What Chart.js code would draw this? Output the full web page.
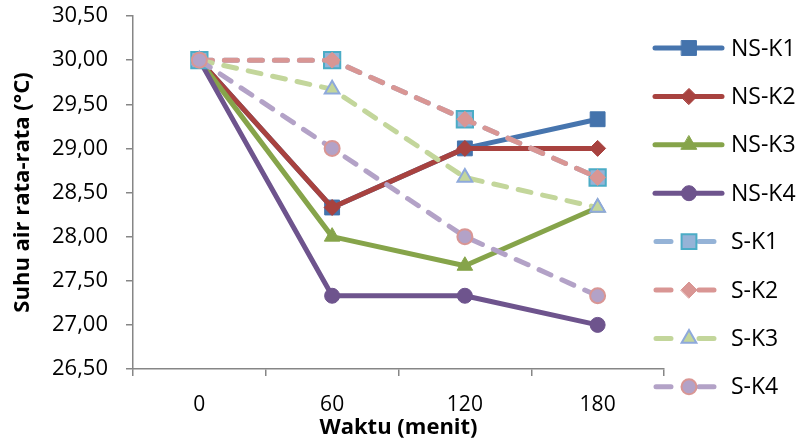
<!DOCTYPE html>
<html>
<head>
<meta charset="utf-8">
<script src="https://cdn.jsdelivr.net/npm/chart.js@4"></script>
<style>
  html, body { margin: 0; padding: 0; background: #fff; }
  #wrap { width: 796px; height: 441px; }
</style>
</head>
<body>
<div id="wrap"><canvas id="myChart" width="796" height="441"></canvas></div>
<script>
const labels = ['0', '60', '120', '180'];
const seriesNames = ['NS-K1', 'NS-K2', 'NS-K3', 'NS-K4', 'S-K1', 'S-K2', 'S-K3', 'S-K4'];
const nsK1 = [30.00, 28.33, 29.00, 29.33];
const nsK2 = [30.00, 28.33, 29.00, 29.00];
const nsK3 = [30.00, 28.00, 27.67, 28.33];
const nsK4 = [30.00, 27.33, 27.33, 27.00];
const sK1 = [30.00, 30.00, 29.33, 28.67];
const sK2 = [30.00, 30.00, 29.33, 28.67];
const sK3 = [30.00, 29.67, 28.67, 28.33];
const sK4 = [30.00, 29.00, 28.00, 27.33];
const yMin = 26.5, yMax = 30.5, yStep = 0.5;

const FONT = "'Open Sans', sans-serif";
const DASH = [13, 12];

function line(name, values, color, style, radius, fill, border, bw, dashed, order) {
  return {
    label: name,
    data: values,
    borderColor: color,
    backgroundColor: color,
    borderWidth: 5,
    borderDash: dashed ? DASH : [],
    borderCapStyle: 'round',
    borderJoinStyle: 'round',
    pointStyle: style,
    pointRadius: radius,
    pointHoverRadius: radius,
    pointBackgroundColor: fill,
    pointBorderColor: border,
    pointBorderWidth: bw,
    tension: 0,
    order: order
  };
}

const datasets = [
  line(seriesNames[0], nsK1, '#4775AE', 'rect', 10.5, '#4473AC', '#4473AC', 1, false, 8),
  line(seriesNames[1], nsK2, '#A8423F', 'rectRot', 8, '#A8423F', '#A8423F', 1, false, 7),
  line(seriesNames[2], nsK3, '#86A44A', 'triangle', 9, '#86A44A', '#86A44A', 1, false, 6),
  line(seriesNames[3], nsK4, '#6E548D', 'circle', 7.5, '#6E548D', '#6E548D', 1, false, 5),
  line(seriesNames[4], sK1, '#95B3D7', 'rect', 11.5, '#95B3D7', '#4BACC6', 2, true, 4),
  line(seriesNames[5], sK2, '#D99694', 'rectRot', 8, '#D99694', '#D99694', 1, true, 3),
  line(seriesNames[6], sK3, '#C3D69B', 'triangle', 8.5, '#C3D69B', '#8EA9DB', 2, true, 2),
  line(seriesNames[7], sK4, '#B3A2C7', 'circle', 7.5, '#B3A2C7', '#D99694', 2, true, 1)
];

// legend on the right: line + marker + name, like the spreadsheet one
const sideLegend = {
  id: 'sideLegend',
  afterDraw(chart) {
    const ctx = chart.ctx;
    const x0 = 653, x1 = 724, xm = 689, tx = 731;
    const top = 48, gap = 48.4;
    chart.data.datasets.forEach((ds, i) => {
      const y = top + i * gap;
      const dashed = ds.borderDash.length > 0;
      ctx.save();
      ctx.strokeStyle = ds.borderColor;
      ctx.lineWidth = ds.borderWidth;
      ctx.lineCap = 'round';
      ctx.beginPath();
      if (dashed) {
        ctx.moveTo(x0 + 3, y); ctx.lineTo(x0 + 18, y);
        ctx.moveTo(xm + 10, y); ctx.lineTo(x1 - 10, y);
      } else {
        ctx.moveTo(x0 + 2, y); ctx.lineTo(x1 - 2, y);
      }
      ctx.stroke();
      ctx.fillStyle = ds.pointBackgroundColor;
      ctx.strokeStyle = ds.pointBorderColor;
      ctx.lineWidth = ds.pointBorderWidth;
      Chart.helpers.drawPoint(ctx, {
        pointStyle: ds.pointStyle,
        radius: ds.pointStyle === 'rect' && dashed ? 10.5 : ds.pointRadius,
        rotation: 0,
        borderWidth: ds.pointBorderWidth
      }, xm, y);
      ctx.fillStyle = '#000';
      ctx.font = '23px ' + FONT;
      ctx.textBaseline = 'middle';
      ctx.textAlign = 'left';
      ctx.fillText(ds.label, tx, y + 1);
      ctx.restore();
    });
  }
};

const config = {
  type: 'line',
  data: { labels: labels, datasets: datasets },
  options: {
    responsive: false,
    animation: false,
    layout: { padding: { left: 0, right: 132, top: 16, bottom: 0 } },
    plugins: {
      legend: { display: false },
      tooltip: { enabled: false }
    },
    scales: {
      x: {
        offset: true,
        grid: {
          offset: true,
          drawOnChartArea: false,
          drawTicks: true,
          tickLength: 7,
          color: '#868686',
          lineWidth: 1.5
        },
        border: { color: '#868686', width: 1.5 },
        ticks: { color: '#000', padding: 16, font: { family: FONT, size: 21 } },
        title: {
          display: true,
          text: 'Waktu (menit)',
          color: '#000',
          padding: { top: -17, bottom: 0 },
          font: { family: FONT, size: 22, weight: 'bold' }
        },
        afterFit(s) {
          s.height = 72;
          s.paddingLeft = 0;
          s.paddingRight = 0;
        }
      },
      y: {
        min: yMin,
        max: yMax,
        grid: {
          drawOnChartArea: false,
          drawTicks: true,
          tickLength: 7,
          color: '#868686',
          lineWidth: 1.5
        },
        border: { color: '#868686', width: 1.5 },
        ticks: {
          stepSize: yStep,
          color: '#000',
          padding: 18,
          font: { family: FONT, size: 22 },
          callback: v => v.toFixed(2).replace('.', ',')
        },
        title: {
          display: true,
          text: 'Suhu air rata-rata (°C)',
          color: '#000',
          padding: { top: 10, bottom: 0 },
          font: { family: FONT, size: 22, weight: 'bold' }
        },
        afterFit(s) {
          s.width = 133;
          s.paddingTop = 0;
          s.paddingBottom = 0;
        }
      }
    }
  },
  plugins: [sideLegend]
};

var myChart = new Chart(document.getElementById('myChart'), config);
</script>
</body>
</html>
